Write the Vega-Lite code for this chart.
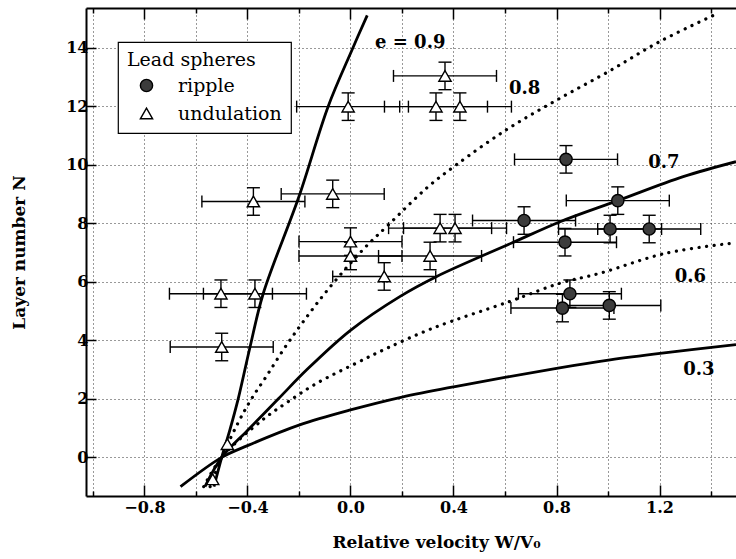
{
  "$schema": "https://vega.github.io/schema/vega-lite/v6.json",
  "width": 650,
  "height": 488,
  "autosize": "none",
  "padding": {"left": 86, "top": 8, "right": 0, "bottom": 63},
  "background": "white",
  "config": {
    "view": {"stroke": null},
    "font": "DejaVu Serif",
    "legend": {
      "orient": "none",
      "legendX": 32,
      "legendY": 34,
      "strokeColor": "black",
      "strokeWidth": 1.2,
      "fillColor": "white",
      "padding": 9,
      "titleFont": "DejaVu Serif",
      "titleFontSize": 19,
      "titleFontWeight": "normal",
      "titleColor": "black",
      "titlePadding": 6,
      "labelFont": "DejaVu Serif",
      "labelFontSize": 19,
      "labelColor": "black",
      "symbolSize": 150,
      "symbolStrokeWidth": 1.4,
      "symbolOffset": 10,
      "labelOffset": 22,
      "rowPadding": 8
    }
  },
  "datasets": {
    "points": [
      {"type": "ripple", "x": 0.837, "N": 10.18, "xlo": 0.637, "xhi": 1.037, "nlo": 9.71, "nhi": 10.65},
      {"type": "ripple", "x": 1.038, "N": 8.77, "xlo": 0.838, "xhi": 1.238, "nlo": 8.30, "nhi": 9.24},
      {"type": "ripple", "x": 0.674, "N": 8.09, "xlo": 0.474, "xhi": 0.874, "nlo": 7.62, "nhi": 8.56},
      {"type": "ripple", "x": 1.008, "N": 7.80, "xlo": 0.808, "xhi": 1.208, "nlo": 7.33, "nhi": 8.27},
      {"type": "ripple", "x": 1.160, "N": 7.80, "xlo": 0.960, "xhi": 1.360, "nlo": 7.33, "nhi": 8.27},
      {"type": "ripple", "x": 0.833, "N": 7.35, "xlo": 0.633, "xhi": 1.033, "nlo": 6.88, "nhi": 7.82},
      {"type": "ripple", "x": 0.852, "N": 5.59, "xlo": 0.652, "xhi": 1.052, "nlo": 5.12, "nhi": 6.06},
      {"type": "ripple", "x": 0.823, "N": 5.10, "xlo": 0.623, "xhi": 1.023, "nlo": 4.63, "nhi": 5.57},
      {"type": "ripple", "x": 1.005, "N": 5.19, "xlo": 0.805, "xhi": 1.205, "nlo": 4.72, "nhi": 5.66},
      {"type": "undulation", "x": -0.377, "N": 8.74, "xlo": -0.577, "xhi": -0.177, "nlo": 8.27, "nhi": 9.21},
      {"type": "undulation", "x": -0.069, "N": 9.00, "xlo": -0.269, "xhi": 0.131, "nlo": 8.53, "nhi": 9.47},
      {"type": "undulation", "x": 0.0, "N": 7.37, "xlo": -0.2, "xhi": 0.2, "nlo": 6.90, "nhi": 7.84},
      {"type": "undulation", "x": 0.0, "N": 6.88, "xlo": -0.2, "xhi": 0.2, "nlo": 6.41, "nhi": 7.35},
      {"type": "undulation", "x": 0.131, "N": 6.18, "xlo": -0.069, "xhi": 0.331, "nlo": 5.71, "nhi": 6.65},
      {"type": "undulation", "x": 0.348, "N": 7.83, "xlo": 0.148, "xhi": 0.548, "nlo": 7.36, "nhi": 8.30},
      {"type": "undulation", "x": 0.406, "N": 7.83, "xlo": 0.206, "xhi": 0.606, "nlo": 7.36, "nhi": 8.30},
      {"type": "undulation", "x": 0.309, "N": 6.88, "xlo": 0.109, "xhi": 0.509, "nlo": 6.41, "nhi": 7.35},
      {"type": "undulation", "x": 0.367, "N": 13.03, "xlo": 0.167, "xhi": 0.567, "nlo": 12.56, "nhi": 13.50},
      {"type": "undulation", "x": -0.009, "N": 11.98, "xlo": -0.209, "xhi": 0.191, "nlo": 11.51, "nhi": 12.45},
      {"type": "undulation", "x": 0.332, "N": 11.98, "xlo": 0.132, "xhi": 0.532, "nlo": 11.51, "nhi": 12.45},
      {"type": "undulation", "x": 0.425, "N": 11.98, "xlo": 0.225, "xhi": 0.625, "nlo": 11.51, "nhi": 12.45},
      {"type": "undulation", "x": -0.503, "N": 5.59, "xlo": -0.703, "xhi": -0.303, "nlo": 5.12, "nhi": 6.06},
      {"type": "undulation", "x": -0.371, "N": 5.59, "xlo": -0.571, "xhi": -0.171, "nlo": 5.12, "nhi": 6.06},
      {"type": "undulation", "x": -0.500, "N": 3.77, "xlo": -0.700, "xhi": -0.300, "nlo": 3.30, "nhi": 4.24},
      {"type": "undulation", "x": -0.478, "N": 0.45},
      {"type": "undulation", "x": -0.535, "N": -0.75}
    ],
    "solid": [
      {"e": "0.9", "x": -0.53, "N": -1.0}, {"e": "0.9", "x": -0.5, "N": 0}, {"e": "0.9", "x": -0.468, "N": 0.95},
      {"e": "0.9", "x": -0.436, "N": 2.0}, {"e": "0.9", "x": -0.39, "N": 3.77}, {"e": "0.9", "x": -0.339, "N": 5.59},
      {"e": "0.9", "x": -0.2, "N": 8.91}, {"e": "0.9", "x": -0.087, "N": 11.98}, {"e": "0.9", "x": 0.005, "N": 13.9},
      {"e": "0.9", "x": 0.065, "N": 15.1},
      {"e": "0.7", "x": -0.565, "N": -1.0}, {"e": "0.7", "x": -0.5, "N": 0}, {"e": "0.7", "x": -0.4, "N": 0.92},
      {"e": "0.7", "x": -0.28, "N": 2.0}, {"e": "0.7", "x": -0.17, "N": 2.99},
      {"e": "0.7", "x": 0.0, "N": 4.34}, {"e": "0.7", "x": 0.193, "N": 5.5}, {"e": "0.7", "x": 0.335, "N": 6.18},
      {"e": "0.7", "x": 0.626, "N": 7.32}, {"e": "0.7", "x": 0.814, "N": 8.05}, {"e": "0.7", "x": 1.038, "N": 8.77},
      {"e": "0.7", "x": 1.292, "N": 9.59}, {"e": "0.7", "x": 1.497, "N": 10.1},
      {"e": "0.3", "x": -0.66, "N": -1.0}, {"e": "0.3", "x": -0.5, "N": 0}, {"e": "0.3", "x": -0.4, "N": 0.4},
      {"e": "0.3", "x": -0.2, "N": 1.1}, {"e": "0.3", "x": 0.0, "N": 1.62}, {"e": "0.3", "x": 0.2, "N": 2.06},
      {"e": "0.3", "x": 0.406, "N": 2.42}, {"e": "0.3", "x": 0.806, "N": 3.05}, {"e": "0.3", "x": 1.008, "N": 3.33},
      {"e": "0.3", "x": 1.21, "N": 3.56}, {"e": "0.3", "x": 1.497, "N": 3.85}
    ],
    "dotted": [
      {"e": "0.8", "x": -0.545, "N": -1.0}, {"e": "0.8", "x": -0.5, "N": 0}, {"e": "0.8", "x": -0.437, "N": 1.17},
      {"e": "0.8", "x": -0.385, "N": 1.99}, {"e": "0.8", "x": -0.325, "N": 2.79}, {"e": "0.8", "x": -0.255, "N": 3.75},
      {"e": "0.8", "x": -0.183, "N": 4.64}, {"e": "0.8", "x": -0.086, "N": 5.75},
      {"e": "0.8", "x": 0.05, "N": 7.11}, {"e": "0.8", "x": 0.147, "N": 7.94},
      {"e": "0.8", "x": 0.296, "N": 9.2}, {"e": "0.8", "x": 0.412, "N": 10.0}, {"e": "0.8", "x": 0.607, "N": 11.2},
      {"e": "0.8", "x": 0.8, "N": 12.2}, {"e": "0.8", "x": 1.0, "N": 13.17}, {"e": "0.8", "x": 1.2, "N": 14.2},
      {"e": "0.8", "x": 1.41, "N": 15.1},
      {"e": "0.6", "x": -0.57, "N": -1.0}, {"e": "0.6", "x": -0.5, "N": 0}, {"e": "0.6", "x": -0.34, "N": 1.29},
      {"e": "0.6", "x": -0.249, "N": 1.86}, {"e": "0.6", "x": -0.133, "N": 2.52},
      {"e": "0.6", "x": 0.025, "N": 3.23}, {"e": "0.6", "x": 0.14, "N": 3.72}, {"e": "0.6", "x": 0.322, "N": 4.42},
      {"e": "0.6", "x": 0.62, "N": 5.33}, {"e": "0.6", "x": 0.814, "N": 5.95}, {"e": "0.6", "x": 0.969, "N": 6.29},
      {"e": "0.6", "x": 1.228, "N": 6.98}, {"e": "0.6", "x": 1.497, "N": 7.33}
    ],
    "labels": [
      {"t": "e = 0.9", "x": 0.232, "N": 14.14},
      {"t": "0.8", "x": 0.676, "N": 12.6},
      {"t": "0.7", "x": 1.217, "N": 10.05},
      {"t": "0.6", "x": 1.32, "N": 6.17},
      {"t": "0.3", "x": 1.353, "N": 3.0}
    ]
  },
  "resolve": {"axis": {"x": "independent", "y": "independent"}},
  "layer": [
    {
      "mark": {"type": "rule", "color": "black", "strokeWidth": 1.6},
      "encoding": {
        "x": {
          "datum": 0,
          "type": "quantitative",
          "scale": {"domain": [-1.027, 1.497], "nice": false, "zero": false},
          "axis": {
            "orient": "bottom",
            "values": [-1, -0.8, -0.6, -0.4, -0.2, 0, 0.2, 0.4, 0.6, 0.8, 1, 1.2, 1.4],
            "labelExpr": "abs(round(datum.value*5))%2==0 ? format(datum.value,'.1f') : ''",
            "grid": true,
            "gridDash": [1, 3],
            "gridColor": "#333333",
            "gridWidth": 1,
            "tickColor": "black",
            "tickWidth": 1.5,
            "tickSize": {"condition": {"test": "abs(round(datum.value*5))%2==0", "value": -11}, "value": -5},
            "labelPadding": 14,
            "labelFont": "DejaVu Serif",
            "labelFontWeight": "bold",
            "labelFontSize": 16,
            "labelColor": "black",
            "domainColor": "black",
            "domainWidth": 2,
            "title": "Relative velocity W/V₀",
            "titleFont": "DejaVu Serif",
            "titleFontWeight": "bold",
            "titleFontSize": 17,
            "titleColor": "black",
            "titleX": 350,
            "titleY": 38
          }
        }
      }
    },
    {
      "mark": {"type": "rule", "color": "black", "strokeWidth": 1.6},
      "encoding": {
        "y": {
          "datum": 0,
          "type": "quantitative",
          "scale": {"domain": [-1.32, 15.35], "nice": false, "zero": false},
          "axis": {
            "values": [0, 2, 4, 6, 8, 10, 12, 14],
            "format": "d",
            "grid": true,
            "gridDash": [1, 3],
            "gridColor": "#333333",
            "gridWidth": 1,
            "tickColor": "black",
            "tickWidth": 1.5,
            "tickSize": -10,
            "labelPadding": 8,
            "labelFont": "DejaVu Serif",
            "labelFontWeight": "bold",
            "labelFontSize": 16,
            "labelColor": "black",
            "domainColor": "black",
            "domainWidth": 2,
            "title": "Layer number N",
            "titleFont": "DejaVu Serif",
            "titleFontWeight": "bold",
            "titleFontSize": 17,
            "titleColor": "black",
            "titleX": -58
          }
        }
      }
    },
    {
      "mark": {"type": "point", "opacity": 0},
      "encoding": {
        "x": {
          "datum": 0,
          "type": "quantitative",
          "axis": {
            "orient": "top",
            "values": [-1, -0.8, -0.6, -0.4, -0.2, 0, 0.2, 0.4, 0.6, 0.8, 1, 1.2, 1.4],
            "labels": false,
            "grid": false,
            "tickColor": "black",
            "tickWidth": 1.5,
            "tickSize": {"condition": {"test": "abs(round(datum.value*5))%2==0", "value": -11}, "value": -5},
            "domainColor": "black",
            "domainWidth": 2,
            "title": null
          }
        },
        "y": {"datum": 7, "type": "quantitative", "axis": null}
      }
    },
    {
      "data": {"name": "solid"},
      "mark": {"type": "line", "color": "black", "strokeWidth": 2.8, "interpolate": "catmull-rom", "clip": true},
      "encoding": {
        "x": {"field": "x", "type": "quantitative", "axis": null},
        "y": {"field": "N", "type": "quantitative", "axis": null},
        "detail": {"field": "e"}
      }
    },
    {
      "data": {"name": "dotted"},
      "mark": {"type": "line", "color": "black", "strokeWidth": 3.2, "strokeDash": [0.1, 7.5], "strokeCap": "round", "interpolate": "catmull-rom", "clip": true},
      "encoding": {
        "x": {"field": "x", "type": "quantitative", "axis": null},
        "y": {"field": "N", "type": "quantitative", "axis": null},
        "detail": {"field": "e"}
      }
    },
    {
      "data": {"name": "points"},
      "mark": {"type": "rule", "color": "black", "strokeWidth": 1.4},
      "encoding": {
        "x": {"field": "xlo", "type": "quantitative", "axis": null},
        "x2": {"field": "xhi"},
        "y": {"field": "N", "type": "quantitative", "axis": null}
      }
    },
    {
      "data": {"name": "points"},
      "mark": {"type": "rule", "color": "black", "strokeWidth": 1.4},
      "encoding": {
        "x": {"field": "x", "type": "quantitative", "axis": null},
        "y": {"field": "nlo", "type": "quantitative", "axis": null},
        "y2": {"field": "nhi"}
      }
    },
    {
      "data": {"name": "points"},
      "mark": {"type": "tick", "orient": "vertical", "size": 12, "thickness": 1.4, "color": "black", "opacity": 1},
      "encoding": {
        "x": {"field": "xlo", "type": "quantitative", "axis": null},
        "y": {"field": "N", "type": "quantitative", "axis": null}
      }
    },
    {
      "data": {"name": "points"},
      "mark": {"type": "tick", "orient": "vertical", "size": 12, "thickness": 1.4, "color": "black", "opacity": 1},
      "encoding": {
        "x": {"field": "xhi", "type": "quantitative", "axis": null},
        "y": {"field": "N", "type": "quantitative", "axis": null}
      }
    },
    {
      "data": {"name": "points"},
      "mark": {"type": "tick", "orient": "horizontal", "size": 13, "thickness": 1.4, "color": "black", "opacity": 1},
      "encoding": {
        "x": {"field": "x", "type": "quantitative", "axis": null},
        "y": {"field": "nlo", "type": "quantitative", "axis": null}
      }
    },
    {
      "data": {"name": "points"},
      "mark": {"type": "tick", "orient": "horizontal", "size": 13, "thickness": 1.4, "color": "black", "opacity": 1},
      "encoding": {
        "x": {"field": "x", "type": "quantitative", "axis": null},
        "y": {"field": "nhi", "type": "quantitative", "axis": null}
      }
    },
    {
      "data": {"name": "points"},
      "mark": {"type": "point", "size": 150, "strokeWidth": 1.4, "opacity": 1},
      "encoding": {
        "x": {"field": "x", "type": "quantitative", "axis": null},
        "y": {"field": "N", "type": "quantitative", "axis": null},
        "shape": {
          "field": "type",
          "type": "nominal",
          "title": "Lead spheres",
          "scale": {"domain": ["ripple", "undulation"], "range": ["circle", "triangle-up"]}
        },
        "fill": {
          "field": "type",
          "type": "nominal",
          "title": "Lead spheres",
          "scale": {"domain": ["ripple", "undulation"], "range": ["#3c3c3c", "#ffffff"]}
        },
        "stroke": {
          "field": "type",
          "type": "nominal",
          "title": "Lead spheres",
          "scale": {"domain": ["ripple", "undulation"], "range": ["#000000", "#000000"]}
        }
      }
    },
    {
      "data": {"name": "labels"},
      "mark": {"type": "text", "font": "DejaVu Serif", "fontWeight": "bold", "fontSize": 18, "color": "black", "align": "center", "baseline": "middle"},
      "encoding": {
        "x": {"field": "x", "type": "quantitative", "axis": null},
        "y": {"field": "N", "type": "quantitative", "axis": null},
        "text": {"field": "t"}
      }
    }
  ]
}
